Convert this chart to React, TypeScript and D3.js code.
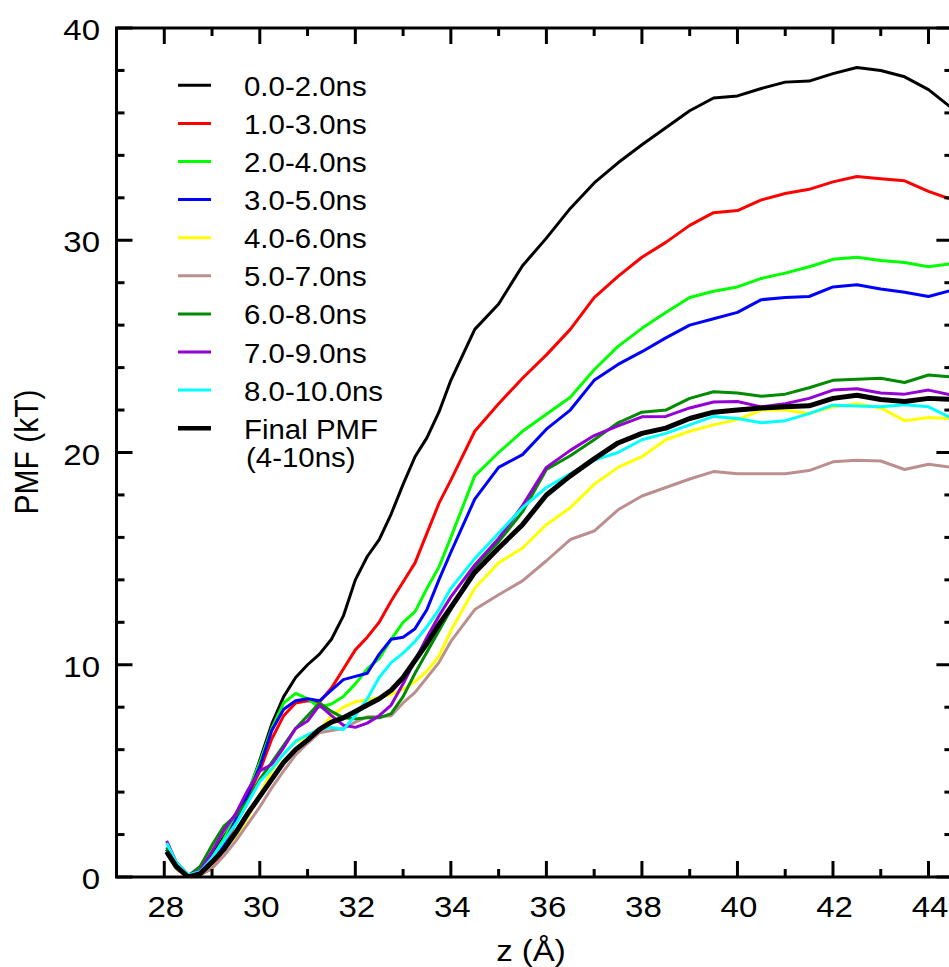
import React from 'react';
import * as d3 from 'd3';

// z positions (Å) at which the curves were read
const zValues = [28.05, 28.25, 28.5, 28.75, 29.0, 29.25, 29.5, 29.75, 30.0, 30.25, 30.5, 30.75, 31.0, 31.25, 31.5, 31.75, 32.0, 32.25, 32.5, 32.75, 33.0, 33.25, 33.5, 33.75, 34.0, 34.5, 35.0, 35.5, 36.0, 36.5, 37.0, 37.5, 38.0, 38.5, 39.0, 39.5, 40.0, 40.5, 41.0, 41.5, 42.0, 42.5, 43.0, 43.5, 44.0, 44.5];

const pmf0to2 = [1.3, 0.5, 0.05, 0.2, 1.0, 1.9, 2.8, 3.9, 5.5, 7.2, 8.5, 9.4, 10.0, 10.5, 11.2, 12.3, 14.0, 15.1, 15.9, 17.1, 18.5, 19.8, 20.7, 21.9, 23.4, 25.8, 27.0, 28.8, 30.1, 31.5, 32.7, 33.65, 34.5, 35.3, 36.1, 36.7, 36.8, 37.15, 37.45, 37.5, 37.85, 38.14, 38.0, 37.7, 37.1, 36.2];
const pmf1to3 = [1.2, 0.4, 0.0, 0.1, 0.4, 1.3, 2.6, 3.8, 5.0, 6.5, 7.6, 8.2, 8.3, 8.25, 8.9, 9.8, 10.7, 11.3, 12.0, 13.0, 13.9, 14.8, 16.2, 17.6, 18.7, 21.0, 22.3, 23.5, 24.6, 25.8, 27.3, 28.3, 29.2, 29.9, 30.7, 31.3, 31.4, 31.9, 32.2, 32.4, 32.75, 33.0, 32.9, 32.8, 32.3, 31.9];
const pmf2to4 = [1.3, 0.5, 0.05, 0.3, 0.9, 1.8, 2.9, 4.0, 5.4, 7.0, 8.2, 8.65, 8.4, 8.0, 8.15, 8.5, 9.1, 9.8, 10.3, 11.2, 12.0, 12.5, 13.6, 14.6, 16.0, 18.9, 20.0, 21.0, 21.8, 22.6, 23.9, 25.0, 25.85, 26.6, 27.3, 27.6, 27.8, 28.2, 28.45, 28.75, 29.1, 29.2, 29.05, 28.95, 28.75, 28.9];
const pmf3to5 = [1.3, 0.5, 0.05, 0.2, 0.7, 1.6, 2.7, 3.9, 5.2, 6.9, 7.9, 8.3, 8.4, 8.3, 8.8, 9.3, 9.45, 9.6, 10.5, 11.2, 11.3, 11.7, 12.6, 14.0, 15.3, 17.8, 19.3, 19.9, 21.1, 22.0, 23.4, 24.15, 24.75, 25.4, 26.0, 26.3, 26.6, 27.2, 27.3, 27.35, 27.8, 27.9, 27.7, 27.55, 27.35, 27.65];
const pmf4to6 = [1.2, 0.4, 0.0, 0.15, 0.6, 1.3, 1.9, 2.8, 3.9, 5.0, 5.8, 6.35, 6.6, 6.9, 7.6, 8.0, 8.25, 8.35, 8.45, 8.6, 8.85, 9.2, 9.7, 10.4, 11.6, 13.6, 14.8, 15.5, 16.6, 17.4, 18.5, 19.3, 19.8, 20.6, 21.0, 21.3, 21.55, 22.0, 22.0, 21.84, 22.15, 22.3, 22.1, 21.5, 21.65, 21.6];
const pmf5to7 = [1.1, 0.4, 0.0, 0.1, 0.4, 1.0, 1.7, 2.5, 3.3, 4.2, 5.0, 5.75, 6.3, 6.8, 6.9, 7.0, 7.3, 7.55, 7.55, 7.6, 8.2, 8.7, 9.4, 10.1, 11.1, 12.6, 13.3, 13.95, 14.9, 15.9, 16.3, 17.3, 17.95, 18.35, 18.75, 19.1, 19.0, 19.0, 19.0, 19.15, 19.56, 19.64, 19.6, 19.2, 19.45, 19.3];
const pmf6to8 = [1.4, 0.6, 0.05, 0.5, 1.5, 2.4, 2.9, 3.6, 4.6, 5.4, 6.2, 7.0, 7.6, 8.2, 7.8, 7.5, 7.45, 7.5, 7.5, 7.7, 8.5, 9.6, 10.6, 11.6, 12.6, 14.6, 15.8, 17.2, 19.2, 19.85, 20.6, 21.4, 21.9, 22.0, 22.55, 22.86, 22.8, 22.65, 22.75, 23.05, 23.4, 23.45, 23.5, 23.3, 23.65, 23.55];
const pmf7to9 = [1.7, 0.7, 0.1, 0.3, 1.2, 2.2, 3.0, 4.1, 5.0, 5.3, 6.1, 7.0, 7.35, 8.1, 7.6, 7.15, 7.05, 7.25, 7.6, 8.1, 9.1, 10.2, 11.3, 12.3, 13.2, 14.7, 15.95, 17.5, 19.3, 20.1, 20.8, 21.25, 21.68, 21.7, 22.1, 22.38, 22.4, 22.15, 22.3, 22.55, 22.94, 23.0, 22.8, 22.75, 22.94, 22.7];
const pmf8to10 = [1.6, 0.7, 0.1, 0.25, 0.9, 1.7, 2.5, 3.5, 4.5, 5.1, 5.8, 6.4, 6.7, 6.95, 7.05, 6.95, 7.6, 8.4, 9.4, 10.1, 10.55, 11.1, 11.8, 12.6, 13.6, 15.0, 16.2, 17.4, 18.35, 19.0, 19.64, 20.0, 20.6, 20.9, 21.3, 21.7, 21.6, 21.4, 21.5, 21.83, 22.23, 22.19, 22.15, 22.25, 22.15, 21.6];
const pmfFinal = [1.2, 0.5, 0.0, 0.15, 0.7, 1.3, 2.1, 3.0, 3.8, 4.6, 5.4, 6.0, 6.45, 6.95, 7.3, 7.5, 7.8, 8.1, 8.4, 8.8, 9.4, 10.2, 11.0, 11.9, 12.7, 14.35, 15.5, 16.6, 18.0, 18.9, 19.7, 20.45, 20.9, 21.15, 21.6, 21.9, 22.0, 22.1, 22.15, 22.2, 22.55, 22.7, 22.5, 22.4, 22.55, 22.5];

const seriesValues = [pmf0to2, pmf1to3, pmf2to4, pmf3to5, pmf4to6, pmf5to7, pmf6to8, pmf7to9, pmf8to10, pmfFinal];
const seriesLabels = ['0.0-2.0ns', '1.0-3.0ns', '2.0-4.0ns', '3.0-5.0ns', '4.0-6.0ns', '5.0-7.0ns', '6.0-8.0ns', '7.0-9.0ns', '8.0-10.0ns', 'Final PMF'];
const seriesColors = ['#000000', '#ff0000', '#00ff00', '#0000ff', '#ffff00', '#bc8f8f', '#008b00', '#9400d3', '#00ffff', '#000000'];
const seriesWidths = [3, 3, 3, 3, 3, 3, 3, 3, 3, 5];

const xMajorTicks = [28, 30, 32, 34, 36, 38, 40, 42, 44];
const xMinorTicks = [27, 29, 31, 33, 35, 37, 39, 41, 43];
const yMajorTicks = [0, 10, 20, 30, 40];
const yMinorTicks = [2, 4, 6, 8, 12, 14, 16, 18, 22, 24, 26, 28, 32, 34, 36, 38];

export default function App() {
  const W = 949, H = 967;
  const left = 116.5, right = 952.4, top = 28, bottom = 877;
  const x = d3.scaleLinear().domain([27, 44.5]).range([left, right]);
  const y = d3.scaleLinear().domain([0, 40]).range([bottom, top]);
  const line = d3.line<number>().x((_, i) => x(zValues[i])).y(d => y(d)).curve(d3.curveLinear);
  const font = '"Liberation Sans", Arial, Helvetica, sans-serif';
  const sx = 1.1;
  const major = 16, minor = 8;

  return (
    <svg width={W} height={H} style={{ position: 'absolute', left: 0, top: 0, background: '#fff' }} fontFamily={font}>
      <rect x={0} y={0} width={W} height={H} fill="#fff" />
      <defs>
        <clipPath id="plotClip">
          <rect x={left} y={top} width={right - left} height={bottom - top} />
        </clipPath>
      </defs>
      <g clipPath="url(#plotClip)">
        {seriesValues.map((vals, i) => (
          <path key={i} d={line(vals) || ''} fill="none" stroke={seriesColors[i]} strokeWidth={seriesWidths[i]} strokeLinejoin="round" />
        ))}
      </g>
      {/* frame */}
      <rect x={left} y={top} width={right - left} height={bottom - top} fill="none" stroke="#000" strokeWidth={3} />
      {/* x ticks */}
      {xMajorTicks.map(t => (
        <g key={'xm' + t}>
          <line x1={x(t)} x2={x(t)} y1={bottom} y2={bottom - major} stroke="#000" strokeWidth={3} />
          <line x1={x(t)} x2={x(t)} y1={top} y2={top + major} stroke="#000" strokeWidth={3} />
          <text transform={`translate(${x(t) + 1.5},${917}) scale(${sx},1)`} textAnchor="middle" fontSize={30}>{t}</text>
        </g>
      ))}
      {xMinorTicks.map(t => (
        <g key={'xn' + t}>
          <line x1={x(t)} x2={x(t)} y1={bottom} y2={bottom - minor} stroke="#000" strokeWidth={3} />
          <line x1={x(t)} x2={x(t)} y1={top} y2={top + minor} stroke="#000" strokeWidth={3} />
        </g>
      ))}
      {/* y ticks */}
      {yMajorTicks.map(t => (
        <g key={'ym' + t}>
          <line x1={left} x2={left + major} y1={y(t)} y2={y(t)} stroke="#000" strokeWidth={3} />
          <line x1={right} x2={right - major} y1={y(t)} y2={y(t)} stroke="#000" strokeWidth={3} />
          <text transform={`translate(${100},${y(t) + 12}) scale(${sx},1)`} textAnchor="end" fontSize={30}>{t}</text>
        </g>
      ))}
      {yMinorTicks.map(t => (
        <g key={'yn' + t}>
          <line x1={left} x2={left + minor} y1={y(t)} y2={y(t)} stroke="#000" strokeWidth={3} />
          <line x1={right} x2={right - minor} y1={y(t)} y2={y(t)} stroke="#000" strokeWidth={3} />
        </g>
      ))}
      {/* axis titles */}
      <text transform={`translate(531,961) scale(${sx},1)`} textAnchor="middle" fontSize={30}>z (Å)</text>
      <text transform={`translate(38,452) rotate(-90) scale(1,${sx})`} textAnchor="middle" fontSize={30}>PMF (kT)</text>
      {/* legend */}
      {seriesLabels.map((lab, i) => {
        const ly = 85.3 + i * 38.1;
        return (
          <g key={'lg' + i}>
            <line x1={178} x2={211} y1={ly} y2={ly} stroke={seriesColors[i]} strokeWidth={seriesWidths[i] === 5 ? 4.5 : 3} />
            <text transform={`translate(244,${ly + 10.5}) scale(1.07,1)`} fontSize={27.5}>{lab}</text>
            {i === seriesLabels.length - 1 && (
              <text transform={`translate(246,${ly + 38.5}) scale(1.07,1)`} fontSize={27.5}>(4-10ns)</text>
            )}
          </g>
        );
      })}
    </svg>
  );
}
